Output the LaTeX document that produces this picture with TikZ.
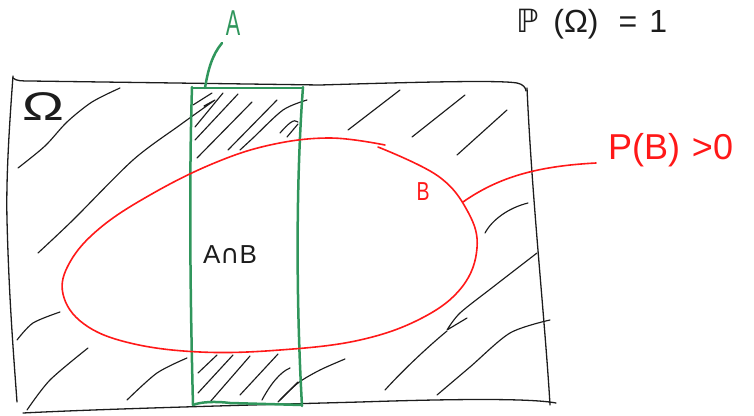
\documentclass[tikz,border=0pt]{standalone}
\usepackage{fontspec}
\setmainfont{Liberation Sans}
\newfontfamily\djv{DejaVu Sans}
\definecolor{ink}{RGB}{28,28,28}
\definecolor{pgreen}{RGB}{48,150,92}
\definecolor{pred}{RGB}{255,24,24}
\begin{document}
\begin{tikzpicture}[x=1pt,y=-1pt,line cap=round,line join=round,
  frame/.style={draw=ink,line width=1.3pt},
  hatch/.style={draw=ink,line width=1.15pt},
  arect/.style={draw=pgreen,line width=2.5pt},
  bcurve/.style={draw=pred,line width=1.6pt},
  lbl/.style={inner sep=0pt,outer sep=0pt}]
\useasboundingbox (0,0) rectangle (754,415);

% ---- hatching (black) ----
\draw[hatch] plot[smooth] coordinates {(18,168) (45,146) (67,122) (92,102) (120,88)};
\draw[hatch] plot[smooth] coordinates {(38,253) (73,220) (133,160) (180,125) (215,100)} -- (204,106);
\draw[hatch] (193,105) -- (212,93);
\draw[hatch] (195,127) -- (223,93);
\draw[hatch] (195,140) -- (238,94);
\draw[hatch] (197,158) -- (252,102);
\draw[hatch] (228,150) -- (277,100);
\draw[hatch] plot[smooth] coordinates {(240,150) (253,138) (283,110) (307,100)};
\draw[hatch] (280,133) .. controls (288,124) and (294,118) .. (298,122);
\draw[hatch] (287,137) -- (298,124);
\draw[hatch] (348,130) -- (400,90);
\draw[hatch] (412,137) -- (465,95);
\draw[hatch] (457,155) -- (507,110);
\draw[hatch] (485,233) .. controls (492,220) and (508,208) .. (528,203);
\draw[hatch] plot[smooth] coordinates {(537,253) (493,287) (460,313) (447,330)} -- (467,318);
\draw[hatch] (447,331) .. controls (430,345) and (405,368) .. (385,390);
\draw[hatch] plot[smooth] coordinates {(437,395) (470,367) (510,333) (550,320)};
\draw[hatch] plot[smooth] coordinates {(17,340) (33,323) (60,312)};
\draw[hatch] plot[smooth] coordinates {(27,410) (50,380) (88,348)};
\draw[hatch] plot[smooth] coordinates {(127,400) (157,373) (187,358)};
\draw[hatch] (198,373) -- (217,355);
\draw[hatch] (198,393) -- (233,355);
\draw[hatch] (210,402) -- (250,356);
\draw[hatch] (240,395) -- (278,354);
\draw[hatch] (262,400) .. controls (270,385) and (280,372) .. (290,368);
\draw[hatch] plot[smooth] coordinates {(278,402) (298,383) (320,370) (345,359)};
\draw[hatch] (280,400) -- (298,382);

% ---- Omega frame ----
\draw[frame] (13,76) .. controls (9,130) and (6,180) .. (7,220) .. controls (9,300) and (14,360) .. (17,402);
\draw[frame] (13,78) .. controls (16,81) and (22,81) .. (30,81) -- (320,85) .. controls (420,82) and (500,80) .. (517,83) .. controls (523,84) and (526,88) .. (526,91);
\draw[frame] (527,88) .. controls (532,200) and (545,320) .. (550,405);
\draw[frame] (23,413) .. controls (100,409) and (250,405) .. (360,402) .. controls (450,399) and (530,398) .. (556,403);

% ---- event A (green) ----
\draw[arect] (192,87) .. controls (190,150) and (189,250) .. (193,405);
\draw[arect] (303,87) .. controls (296,180) and (296,300) .. (302,406);
\draw[arect] (192,88) -- (303,88);
\draw[arect] (193,405) .. controls (200,402) and (215,401) .. (230,403) -- (302,405);

% ---- event B (red) ----
\draw[bcurve] plot[smooth,tension=0.65] coordinates {(378,147) (438,176) (468,212) (477,248) (462,287) (422,318) (360,340) (280,350) (200,352) (130,343) (84,324) (63,294) (70,262) (100,228) (150,195) (212,164) (270,145) (330,138) (385,145)};

% ---- labels ----
\node[lbl,text=ink,font=\fontsize{40}{40}\selectfont] (omega) at (43,107) {\scalebox{1.4}[1]{Ω}};
\node[lbl,text=ink,font=\fontsize{32}{32}\selectfont] (prob) at (592,24) {{\djv ℙ}\hspace{14pt}(Ω)\hspace{20pt}=\hspace{12pt}1};
\node[lbl,text=pgreen,font=\fontsize{36}{36}\selectfont] (Alab) at (233,23) {\scalebox{0.6}[1]{A}};
\node[lbl,text=pred,font=\fontsize{26}{26}\selectfont] (Blab) at (423,192) {\scalebox{0.75}[1]{B}};
\node[lbl,text=ink,font=\fontsize{26}{26}\selectfont] (AB) at (230,255) {A{\djv ∩}B};
\node[lbl,text=pred,font=\fontsize{36}{36}\selectfont,anchor=west] (PB) at (608,150) {P(B)\hspace{12pt}>0};

% ---- connectors ----
\coordinate (Astem) at (205,88);
\coordinate (Aend) at (222,43);
\draw[arect] (Astem) .. controls (208,70) and (212,55) .. (Aend);
\coordinate (Bpt) at (463,202);
\coordinate (PBend) at (596,163);
\draw[bcurve] (Bpt) .. controls (500,176) and (540,166) .. (PBend);
\end{tikzpicture}
\end{document}
